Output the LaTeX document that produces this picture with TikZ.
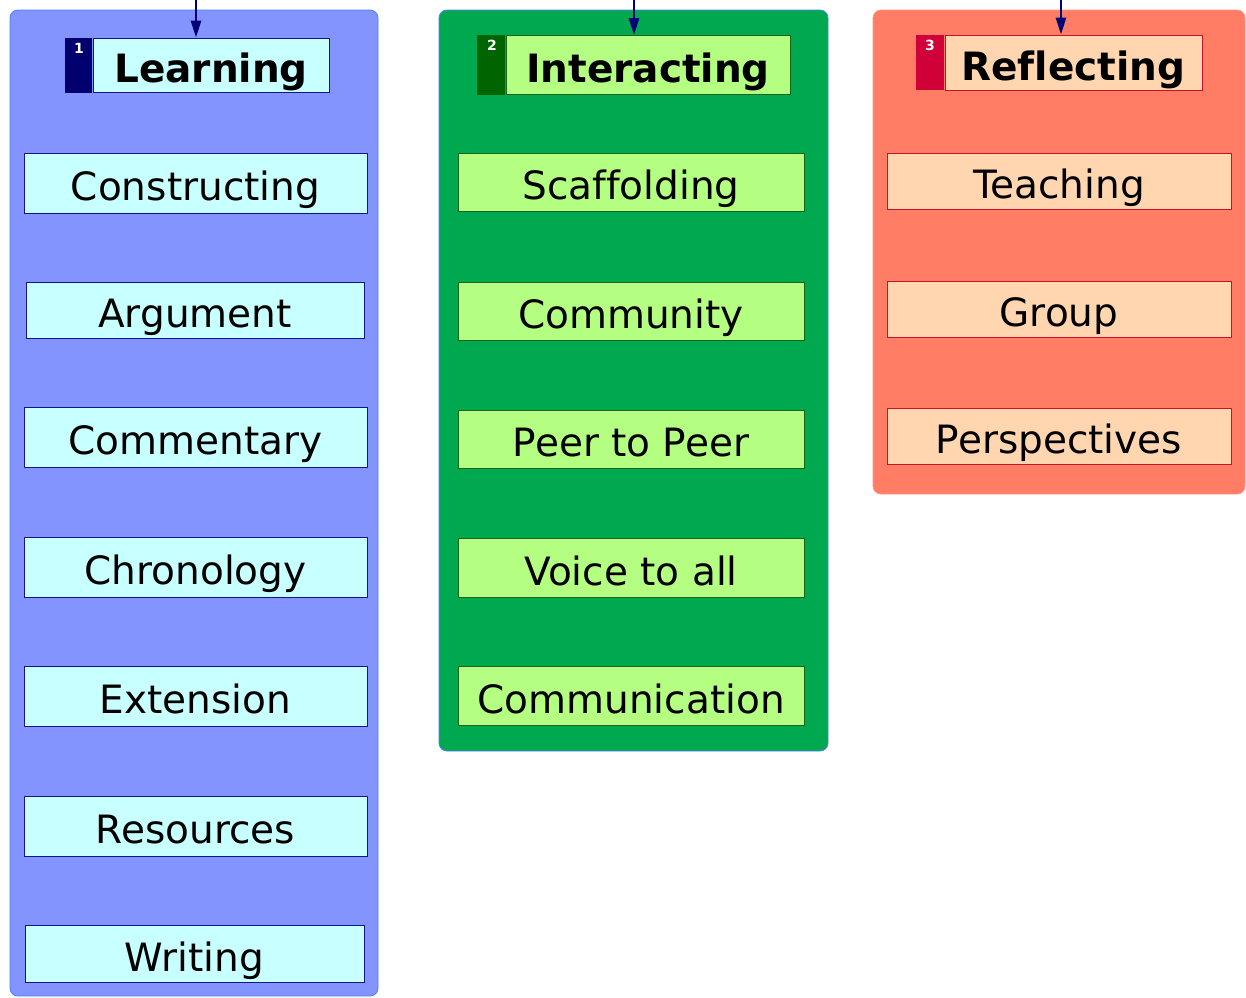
\documentclass[tikz,border=0pt]{standalone}
\usepackage{fontspec}
\setmainfont[Ligatures={NoCommon}]{DejaVu Sans}
\usepackage{xcolor}
\usetikzlibrary{arrows.meta, positioning}
\definecolor{learnBg}{RGB}{132, 148, 255}
\definecolor{learnBox}{RGB}{200, 255, 255}
\definecolor{learnLine}{RGB}{20, 20, 130}
\definecolor{learnNum}{RGB}{0, 0, 110}
\definecolor{interBg}{RGB}{0, 168, 80}
\definecolor{interBox}{RGB}{180, 255, 130}
\definecolor{interLine}{RGB}{25, 100, 25}
\definecolor{interNum}{RGB}{0, 100, 0}
\definecolor{reflBg}{RGB}{255, 125, 100}
\definecolor{reflBox}{RGB}{255, 214, 176}
\definecolor{reflLine}{RGB}{200, 20, 40}
\definecolor{reflNum}{RGB}{208, 0, 56}
\definecolor{frameBlue}{RGB}{70, 130, 255}
\definecolor{arrowNavy}{RGB}{0, 0, 120}

\begin{document}
\begin{tikzpicture}[
    x=1pt, y=-1pt,
    group/.style={rectangle, rounded corners=8pt, fill=#1, draw=frameBlue, line width=0.8pt, inner sep=0pt},
    item/.style={rectangle, fill=#1, line width=0.8pt, inner sep=0pt, text height=38pt, text depth=3pt, font=\fontsize{39}{45}\selectfont},
    head/.style={rectangle, fill=#1, line width=0.8pt, inner sep=0pt, text height=38pt, text depth=3pt, font=\bfseries\fontsize{39}{45}\selectfont},
    num/.style={rectangle, fill=#1, inner sep=0pt, anchor=north east},
    digit/.style={text=white, inner sep=0pt, font=\bfseries\fontsize{14}{16}\selectfont},
    arrow/.style={-{Triangle[length=17pt, width=10pt]}, line width=2.6pt, draw=arrowNavy}
]
\useasboundingbox (0,0) rectangle (1246,997);

% Learning
\node[group=learnBg, minimum width=368pt, minimum height=986pt] (learnbg) at (194,503) {};
\node[head=learnBox, draw=learnLine, minimum width=236pt, minimum height=54pt] (learnhead) at (211,65) {Learning};
\node[num=learnNum, minimum width=27pt, minimum height=55pt] (learnnum) at (learnhead.north west) {};
\node[digit] (learnone) at (79,48) {1};
\node[item=learnBox, draw=learnLine, minimum width=343pt, minimum height=60pt] (constructing) at (195.5,183) {Constructing};
\node[item=learnBox, draw=learnLine, minimum width=338pt, minimum height=56pt] (argument) at (195,310) {Argument};
\node[item=learnBox, draw=learnLine, minimum width=343pt, minimum height=60pt] (commentary) at (195.5,437) {Commentary};
\node[item=learnBox, draw=learnLine, minimum width=343pt, minimum height=60pt] (chronology) at (195.5,567) {Chronology};
\node[item=learnBox, draw=learnLine, minimum width=343pt, minimum height=60pt] (extension) at (195.5,696) {Extension};
\node[item=learnBox, draw=learnLine, minimum width=343pt, minimum height=60pt] (resources) at (195.5,826) {Resources};
\node[item=learnBox, draw=learnLine, minimum width=339pt, minimum height=57pt] (writing) at (194.5,953.5) {Writing};

% Interacting
\node[group=interBg, minimum width=389pt, minimum height=741pt] (interbg) at (633.5,380.5) {};
\node[head=interBox, draw=interLine, minimum width=284pt, minimum height=59pt] (interhead) at (648,65) {Interacting};
\node[num=interNum, minimum width=28pt, minimum height=60pt] (internum) at (interhead.north west) {};
\node[digit] (intertwo) at (492,45) {2};
\node[item=interBox, draw=interLine, minimum width=346pt, minimum height=58pt] (scaffolding) at (631,182) {Scaffolding};
\node[item=interBox, draw=interLine, minimum width=346pt, minimum height=58pt] (community) at (631,311) {Community};
\node[item=interBox, draw=interLine, minimum width=346pt, minimum height=58pt] (peer) at (631,439) {Peer to Peer};
\node[item=interBox, draw=interLine, minimum width=346pt, minimum height=59pt] (voice) at (631,567.5) {Voice to all};
\node[item=interBox, draw=interLine, minimum width=346pt, minimum height=59pt] (communication) at (631,695.5) {Communication};

% Reflecting
\node[group=reflBg, draw=reflBg!80!white, minimum width=372pt, minimum height=484pt] (reflbg) at (1059,252) {};
\node[head=reflBox, draw=reflLine, minimum width=257pt, minimum height=55pt] (reflhead) at (1073.5,62.5) {Reflecting};
\node[num=reflNum, minimum width=28pt, minimum height=55pt] (reflnum) at (reflhead.north west) {};
\node[digit] (reflthree) at (930,45) {3};
\node[item=reflBox, draw=reflLine, minimum width=344pt, minimum height=56pt] (teaching) at (1059,181) {Teaching};
\node[item=reflBox, draw=reflLine, minimum width=344pt, minimum height=56pt] (group) at (1059,309) {Group};
\node[item=reflBox, draw=reflLine, minimum width=344pt, minimum height=56pt] (perspectives) at (1059,436) {Perspectives};

% Incoming arrows
\coordinate (learnin) at (196,0);
\coordinate (interin) at (634,0);
\coordinate (reflin) at (1061,0);
\draw[arrow] (learnin) -- (learnin |- learnhead.north);
\draw[arrow] (interin) -- (interin |- interhead.north);
\draw[arrow] (reflin) -- (reflin |- reflhead.north);

\end{tikzpicture}
\end{document}
